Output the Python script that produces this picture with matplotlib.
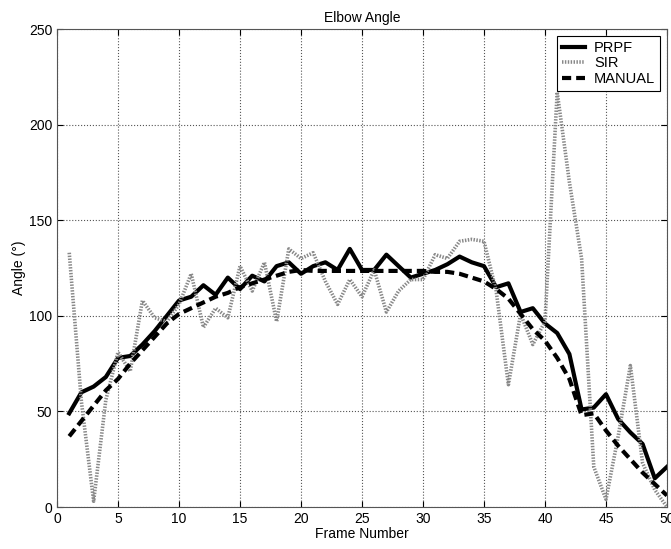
import numpy as np
from matplotlib import pyplot as plt

plt.rcParams['font.family'] = ['Liberation Sans', 'DejaVu Sans']
plt.rcParams['font.size'] = 10

frames = np.arange(1, 51)

prpf = [49, 60, 63, 68, 78, 79, 85, 92, 100, 108,
        110, 116, 111, 120, 114, 121, 118, 126, 128, 122,
        126, 128, 124, 135, 124, 124, 132, 126, 120, 122,
        124, 127, 131, 128, 126, 115, 117, 102, 104, 96,
        91, 80, 51, 52, 59, 46, 39, 33, 15, 21]

sir = [133, 55, 3, 56, 81, 71, 108, 99, 97, 106,
       122, 94, 104, 99, 126, 113, 128, 97, 135, 130,
       133, 118, 106, 119, 110, 124, 102, 113, 119, 119,
       132, 130, 139, 140, 139, 113, 64, 101, 85, 97,
       217, 170, 130, 21, 4, 37, 74, 23, 9, 0]

manual = [37, 45, 53, 61, 67, 75, 82, 89, 96, 101,
          104, 107, 110, 112, 115, 117, 119, 121, 123, 124,
          123.5, 123.5, 123.5, 123.5, 123.5, 123.5, 123.5, 123.5, 123.5, 123.5,
          123, 123, 122, 120, 118, 114, 109, 101, 93, 87,
          78, 67, 48, 49, 40, 32, 25, 18, 12, 6]

fig = plt.figure(figsize=(6.71, 5.49), dpi=100)
ax = fig.add_axes([0.085, 0.0765, 0.909, 0.8705])

ax.plot(frames, prpf, color='black', lw=3, label='PRPF')
ax.plot(frames, sir, color='#888888', lw=2.6, linestyle=(0, (0.4, 0.4)), label='SIR')
ax.plot(frames, manual, color='black', lw=3, linestyle=(0, (2.2, 1.2)), label='MANUAL')

ax.set_xlim(0, 50)
ax.set_ylim(0, 250)
ax.set_xticks(range(0, 51, 5))
ax.set_yticks(range(0, 251, 50))
ax.grid(True, linestyle=':', color='#555555', lw=0.8)
ax.tick_params(direction='in', top=True, right=True, length=4, labelsize=10)
for s in ax.spines.values():
    s.set_color('#555555')

ax.set_title('Elbow Angle', fontsize=10, pad=5)
ax.set_xlabel('Frame Number', fontsize=10, labelpad=1)
ax.set_ylabel('Angle (°)', fontsize=10, labelpad=2)

leg = ax.legend(loc='upper right', fancybox=False, framealpha=1,
                edgecolor='black', handlelength=1.6, handletextpad=0.6,
                borderaxespad=0.45, borderpad=0.35,
                labelspacing=0.1, fontsize=10.5)
leg.get_frame().set_linewidth(0.8)

fig.savefig('out.png', dpi=100)
